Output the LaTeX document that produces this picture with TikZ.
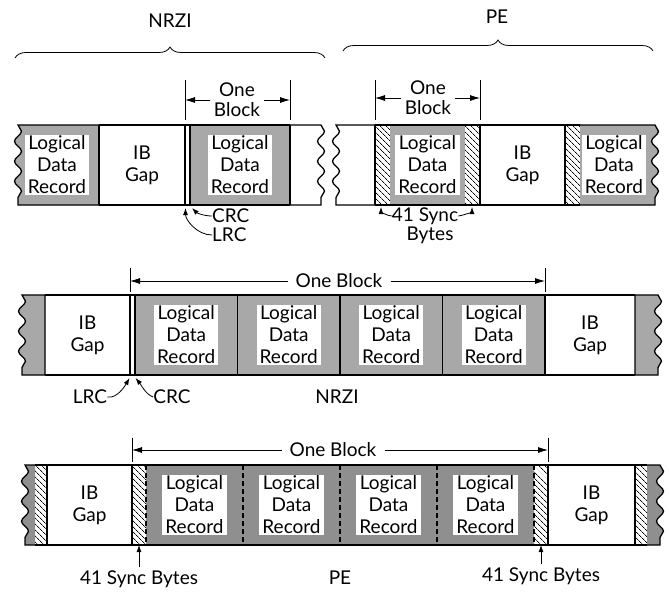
\documentclass[tikz,border=0pt]{standalone}
\usepackage{fontspec}
\setmainfont{Lato}
\usepackage{tikz}
\usetikzlibrary{arrows.meta,decorations.pathmorphing,decorations.pathreplacing,patterns.meta}
\definecolor{TapeGray}{gray}{0.66}
\definecolor{TapeDark}{gray}{0.56}

\begin{document}
\begin{tikzpicture}[
  x=1pt, y=-1pt,
  font=\fontsize{19}{22}\selectfont,
  cell/.style={minimum height=80pt, inner sep=0pt, outer sep=0pt, align=center},
  gap/.style={cell, fill=white},
  rec/.style={cell, fill=TapeGray, label={[rectext]center:{Logical\\Data\\Record}}},
  recdark/.style={rec, fill=TapeDark},
  sync/.style={cell, preaction={fill=white}, pattern={Lines[angle=-45,distance=4pt,line width=0.8pt]}},
  rectext/.style={fill=white, inner xsep=3pt, inner ysep=1pt, align=center},
  rim/.style={line width=1.3pt},
  divider/.style={line width=1.6pt},
  dashdiv/.style={divider, dash pattern=on 5pt off 3pt},
  tear/.style={decoration={snake, amplitude=3.5pt, segment length=20pt}},
  tickmark/.style={line width=0.8pt},
  dim/.style={-{Latex[length=10pt,width=6pt]}, line width=0.8pt},
  callout/.style={-{Latex[length=7pt,width=5pt]}, line width=0.8pt},
  grouping/.style={decorate, decoration={brace, amplitude=11pt}, line width=0.8pt},
  tight/.style={inner sep=0pt}
]
  \useasboundingbox (0,0) rectangle (669,592);

  % top row, NRZI
  \node[gap, minimum width=86pt] (g1) at (142,165) {IB\\Gap};
  \node[gap, minimum width=5pt] (c1) at (187.5,165) {};
  \node[rec, minimum width=100pt] (r1) at (240,165) {};
  \filldraw[rim, fill=TapeGray] (g1.north west) -- (18,125) decorate[tear]{-- (18,205)} -- (g1.south west) -- cycle;
  \node[rectext] (t1) at (57,165) {Logical\\Data\\Record};
  \draw[rim] (r1.north east) -- (321,125) decorate[tear]{-- (321,205)} -- (r1.south east);
  \draw[rim] (g1.north west) -- (r1.north east) (g1.south west) -- (r1.south east);
  \draw[divider] (g1.north west) -- (g1.south west);
  \foreach \n in {g1,c1,r1}
    \draw[divider] (\n.north east) -- (\n.south east);

  % top row, PE
  \node[sync, minimum width=15pt] (s1) at (382.5,165) {};
  \node[rec, minimum width=75pt] (r2) at (427.5,165) {};
  \node[sync, minimum width=15pt] (s2) at (472.5,165) {};
  \node[gap, minimum width=85pt] (g2) at (522.5,165) {IB\\Gap};
  \node[sync, minimum width=15pt] (s3) at (572.5,165) {};
  \filldraw[rim, fill=TapeGray] (s3.north east) -- (655,125) decorate[tear]{-- (655,205)} -- (s3.south east);
  \node[rectext] (t2) at (614,165) {Logical\\Data\\Record};
  \draw[rim] (s1.north west) -- (336,125) decorate[tear]{-- (336,205)} -- (s1.south west);
  \draw[rim] (s1.north west) -- (s3.north east) (s1.south west) -- (s3.south east);
  \foreach \n in {s1,g2}
    \draw[divider] (\n.north west) -- (\n.south west);
  \draw[divider] (g2.north east) -- (g2.south east);

  % middle row, NRZI
  \node[gap, minimum width=85pt] (g3) at (87.5,335) {IB\\Gap};
  \node[gap, minimum width=5pt] (c2) at (132.5,335) {};
  \foreach \i/\x in {3/186.25,4/288.75,5/391.25,6/493.75}
    \node[rec, minimum width=102.5pt] (r\i) at (\x,335) {};
  \node[gap, minimum width=90pt] (g4) at (590,335) {IB\\Gap};
  \filldraw[rim, fill=TapeGray] (g3.north west) -- (22,295) decorate[tear]{-- (22,375)} -- (g3.south west) -- cycle;
  \filldraw[rim, fill=TapeGray] (g4.north east) -- (658,295) decorate[tear]{-- (658,375)} -- (g4.south east) -- cycle;
  \draw[rim] (g3.north west) -- (g4.north east) (g3.south west) -- (g4.south east);
  \foreach \n in {g3,c2,r3,r4,r5,r6}
    \draw[divider] (\n.north east) -- (\n.south east);

  % bottom row, PE
  \node[sync, minimum width=12pt] (s4) at (41,505) {};
  \node[gap, minimum width=85pt] (g5) at (89.5,505) {IB\\Gap};
  \node[sync, minimum width=14pt] (s5) at (139,505) {};
  \foreach \i/\x in {7/194.5,8/291.5,9/388.5,10/485.5}
    \node[recdark, minimum width=97pt] (r\i) at (\x,505) {};
  \node[sync, minimum width=14pt] (s6) at (541,505) {};
  \node[gap, minimum width=87pt] (g6) at (591.5,505) {IB\\Gap};
  \node[sync, minimum width=12pt] (s7) at (641,505) {};
  \filldraw[rim, fill=TapeDark] (s4.north west) -- (25,465) decorate[tear]{-- (25,545)} -- (s4.south west);
  \filldraw[rim, fill=TapeDark] (s7.north east) -- (660,465) decorate[tear]{-- (660,545)} -- (s7.south east);
  \draw[rim] (s4.north west) -- (s7.north east) (s4.south west) -- (s7.south east);
  \foreach \n in {g5,g6} {
    \draw[divider] (\n.north west) -- (\n.south west);
    \draw[divider] (\n.north east) -- (\n.south east);
  }
  \foreach \n in {s5,r7,r8,r9,r10}
    \draw[dashdiv] (\n.north east) -- (\n.south east);

  % braces
  \draw[grouping] (15,58) -- (325,58);
  \draw[grouping] (343,51) -- (653,51);
  \node (nrzi1) at (170,21) {NRZI};
  \node (pe1) at (497,17) {PE};

  % block lengths
  \draw[tickmark] (185,80) -- (185,120) (290,80) -- (290,120);
  \node[align=center, font=\fontsize{19}{20}\selectfont] (ob1) at (237,100) {One\\Block};
  \coordinate (ka) at (185,100);
  \coordinate (kb) at (290,100);
  \draw[dim] (ob1.west) -- (ka);
  \draw[dim] (ob1.east) -- (kb);

  \draw[tickmark] (375,80) -- (375,120) (480,80) -- (480,120);
  \node[align=center, font=\fontsize{19}{20}\selectfont] (ob2) at (428,98) {One\\Block};
  \coordinate (kc) at (375,98);
  \coordinate (kd) at (480,98);
  \draw[dim] (ob2.west) -- (kc);
  \draw[dim] (ob2.east) -- (kd);

  \draw[tickmark] (130,268) -- (130,292) (545,268) -- (545,292);
  \node[inner xsep=8pt] (ob3) at (339,281) {One Block};
  \coordinate (ke) at (130,281);
  \coordinate (kf) at (545,281);
  \draw[dim] (ob3.west) -- (ke);
  \draw[dim] (ob3.east) -- (kf);

  \draw[tickmark] (132,438) -- (132,462) (548,438) -- (548,462);
  \node[inner xsep=8pt] (ob4) at (333,450) {One Block};
  \coordinate (kg) at (132,450);
  \coordinate (kh) at (548,450);
  \draw[dim] (ob4.west) -- (kg);
  \draw[dim] (ob4.east) -- (kh);

  % check characters, NRZI
  \node[tight, anchor=west] (crc1) at (212,216) {CRC};
  \node[tight, anchor=west] (lrc1) at (212,235) {LRC};
  \coordinate (kc1) at (192,208);
  \coordinate (kl1) at (185.5,208);
  \draw[callout] (crc1.west) .. controls +(-8,0) and +(5,5) .. (kc1);
  \draw[callout] (lrc1.west) .. controls +(-15,0) and +(0,12) .. (kl1);

  \node[tight] (lrc2) at (90,397) {LRC};
  \node[tight] (crc2) at (172,397) {CRC};
  \coordinate (kl2) at (129.5,378);
  \coordinate (kc2) at (135.5,378);
  \draw[callout] (lrc2.east) .. controls +(10,2) and +(-4,7) .. (kl2);
  \draw[callout] (crc2.west) .. controls +(-7,-2) and +(5,6) .. (kc2);
  \node (nrzi2) at (337,397) {NRZI};

  % sync bytes, PE
  \node[tight] (sb1) at (425,216) {41 Sync};
  \node[tight] (by1) at (430,235) {Bytes};
  \coordinate (ks1) at (381,207);
  \coordinate (ks2) at (472,207);
  \draw[callout] (sb1.west) .. controls +(-5,0) and +(0,4) .. (ks1);
  \draw[callout] (sb1.east) .. controls +(4,0) and +(0,4) .. (ks2);

  \node (sb3) at (139,579) {41 Sync Bytes};
  \node (sb4) at (541,576) {41 Sync Bytes};
  \draw[callout] (sb3.north) -- (sb3.north |- s5.south);
  \draw[callout] (sb4.north) -- (sb4.north |- s6.south);
  \node (pe2) at (340,578) {PE};
\end{tikzpicture}
\end{document}
